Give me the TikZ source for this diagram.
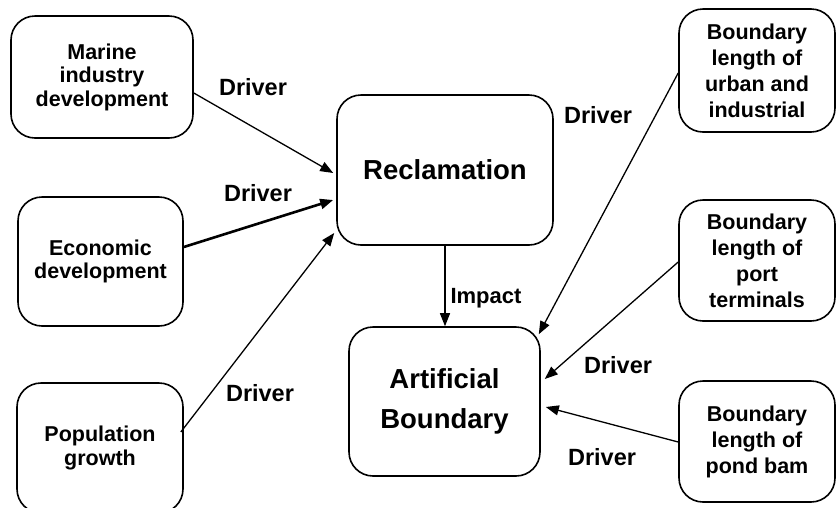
\documentclass[tikz,border=0pt]{standalone}
\usepackage{fontspec}
\setmainfont{Liberation Sans}
\usetikzlibrary{arrows.meta,calc}
\begin{document}
\begin{tikzpicture}[x=1pt,y=-1pt,
  box/.style={draw,line width=1.6pt,rounded corners=24pt,align=center,inner sep=0pt,font=\bfseries\fontsize{21.5}{23.5}\selectfont},
  rbox/.style={box,font=\bfseries\fontsize{21.5}{26}\selectfont},
  bigbox/.style={box,font=\bfseries\fontsize{27.5}{40}\selectfont},
  conn/.style={line width=1.3pt,-{Triangle[length=13pt,width=10pt]}},
  lbl/.style={font=\bfseries\fontsize{23.5}{25}\selectfont,inner sep=0pt}]
\useasboundingbox (0,0) rectangle (837,507);
\node[box,minimum width=182pt,minimum height=122pt] (marine) at (102,77) {Marine\\industry\\development};
\node[box,minimum width=165pt,minimum height=129pt] (econ) at (100.5,261.5) {Economic\\development};
\node[box,minimum width=166pt,minimum height=130pt] (pop) at (100,448) {Population\\growth};
\node[bigbox,minimum width=216pt,minimum height=150pt] (recl) at (445,170) {Reclamation};
\node[bigbox,minimum width=191pt,minimum height=149pt] (art) at (444.5,401.5) {Artificial\\Boundary};
\node[rbox,minimum width=156pt,minimum height=123pt] (urban) at (757,70.5) {Boundary\\length of\\urban and\\industrial};
\node[rbox,minimum width=156pt,minimum height=121pt] (port) at (757,260.5) {Boundary\\length of\\port\\terminals};
\node[rbox,minimum width=156pt,minimum height=121pt] (pond) at (757,441.5) {Boundary\\length of\\pond bam};
\draw[conn] ([shift={(0,16)}]marine.east) -- ([shift={(-3,3)}]recl.west);
\draw[conn,line width=2.6pt] ([shift={(0,-14.5)}]econ.east) -- ([shift={(-3,30)}]recl.west);
\draw[conn] ([shift={(-3,-16)}]pop.east) -- ([shift={(-2,63)}]recl.west);
\draw[conn] (recl.south) -- (recl.south |- art.north);
\draw[conn] ([shift={(0,2.5)}]urban.west) -- ([shift={(-2,8)}]art.north east);
\draw[conn] ([shift={(0,1.5)}]port.west) -- ([shift={(4,-22.5)}]art.east);
\draw[conn] ([shift={(0,0.5)}]pond.west) -- ([shift={(5,5.5)}]art.east);
\node[lbl] (d1) at (253,87) {Driver};
\node[lbl] (d2) at (258,193) {Driver};
\node[lbl] (d3) at (260,393) {Driver};
\node[lbl] (d4) at (598,115) {Driver};
\node[lbl] (d5) at (618,365) {Driver};
\node[lbl] (d6) at (602,457) {Driver};
\node[lbl,font=\bfseries\fontsize{22}{24}\selectfont] (imp) at (486,298) {Impact};
\end{tikzpicture}
\end{document}
